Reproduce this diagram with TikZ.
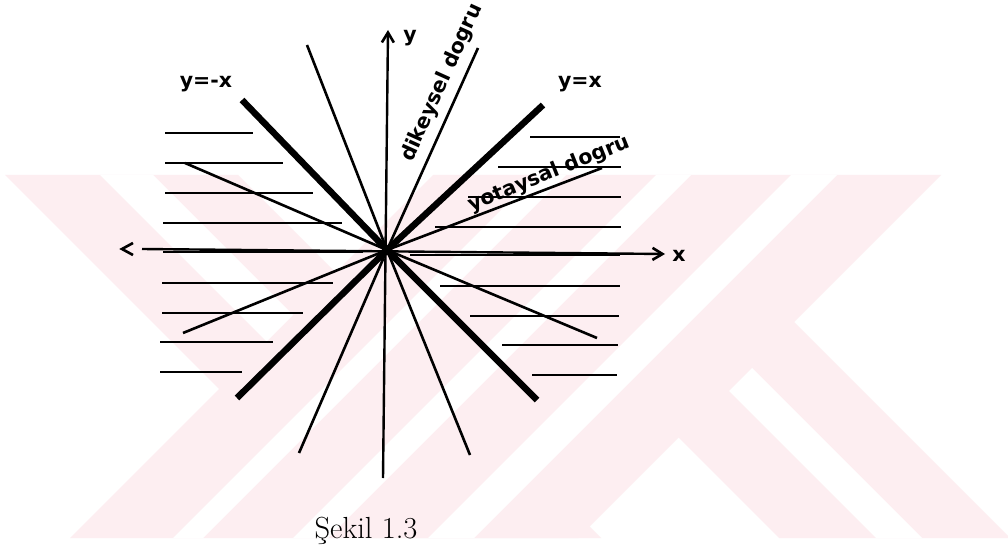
\documentclass[tikz,border=0pt]{standalone}
\usepackage{fontspec}
\newfontfamily\plotfont{DejaVu Sans}
\usetikzlibrary{arrows.meta}
\definecolor{wmpink}{RGB}{253,238,241}
\begin{document}
\begin{tikzpicture}[x=1pt,y=-1pt,
  wm/.style={fill=wmpink,draw=none},
  wmgap/.style={fill=white,draw=none},
  hatch/.style={line width=2.4pt},
  ray/.style={line width=2.6pt},
  thickray/.style={line width=6.5pt},
  axisline/.style={line width=2.4pt},
  tip/.style={-{Straight Barb[length=10pt,width=12pt,line width=2.6pt]}},
  lbl/.style={font=\plotfont\bfseries\fontsize{20.5}{24}\selectfont,inner sep=0pt},
  captext/.style={font=\fontsize{30.5}{36}\selectfont,inner sep=0pt}]
\useasboundingbox (0,0) rectangle (1008,545);
\fill[white] (0,0) rectangle (1008,545);
% watermark
\begin{scope}
\clip (0,175) rectangle (1008,538);
\fill[wm] (433,175) -- (941,175) -- (578,538) -- (70,538) -- cycle;
\fill[wm] (5,175) -- (238,175) -- (601,538) -- (368,538) -- cycle;
\fill[wm] (620.5,379.5) -- (736,264) -- (1010,538) -- (779,538) -- cycle;
\fill[wmgap] (536,175) -- (566,175) -- (203,538) -- (173,538) -- cycle;
\fill[wmgap] (656,175) -- (691,175) -- (328,538) -- (293,538) -- cycle;
\fill[wmgap] (791,175) -- (837,175) -- (474,538) -- (428,538) -- cycle;
\fill[wmgap] (100,175) -- (153,175) -- (293,315) -- (266.5,341.5) -- cycle;
\fill[wmgap] (729,391) -- (752,368) -- (922,538) -- (876,538) -- cycle;
\end{scope}
% centre and ends
\coordinate (O) at (387,250);
\coordinate (xl) at (142,249);
\coordinate (xr) at (665,254);
\coordinate (yb) at (383,478);
\coordinate (yt) at (388,30);
% hatch lines left
\draw[hatch] (165,133) -- (253,133);
\draw[hatch] (165,163) -- (283,163);
\draw[hatch] (165,193) -- (313,193);
\draw[hatch] (163,223) -- (342,223);
\draw[hatch] (163,252) -- (363,252);
\draw[hatch] (162,283) -- (333,283);
\draw[hatch] (162,313) -- (303,313);
\draw[hatch] (160,342) -- (273,342);
\draw[hatch] (160,372) -- (242,372);
% hatch lines right
\draw[hatch] (530,137) -- (620,137);
\draw[hatch] (498,167) -- (621,167);
\draw[hatch] (468,197) -- (621,197);
\draw[hatch] (435,227) -- (621,227);
\draw[hatch] (410,255) -- (620,255);
\draw[hatch] (440,286) -- (620,286);
\draw[hatch] (470,316) -- (619,316);
\draw[hatch] (502,345) -- (618,345);
\draw[hatch] (532,375) -- (617,375);
% axes
\draw[axisline,tip] (xl) -- (xr);
\draw[axisline,tip] (yb) -- (yt);
\draw[line width=2.6pt] (133,243) -- (122,249) -- (133,255);
% thin rays
\draw[ray] (307,45) -- (O) -- (470,455);
\draw[ray] (478,48) -- (O) -- (299,453);
\draw[ray] (602,168) -- (O) -- (183,333);
\draw[ray] (185,163) -- (O) -- (597,338);
% thick rays
\draw[thickray] (242,100) -- (O) -- (537,400);
\draw[thickray] (543,105) -- (O) -- (237,398);
% labels
\node[lbl,anchor=base] (lmx) at (206,88) {y=-x};
\node[lbl,anchor=base] (lpx) at (580,88) {y=x};
\node[lbl] (ly) at (410,38) {y};
\node[lbl] (lx) at (679,256) {x};
\node[lbl,rotate=65.7] (ldik) at (442,83) {dikeysel dogru};
\node[lbl,rotate=22] (lyat) at (549,174) {yotaysal dogru};
\node[captext,anchor=base] (capnode) at (366,538) {Şekil 1.3};
\end{tikzpicture}
\end{document}
